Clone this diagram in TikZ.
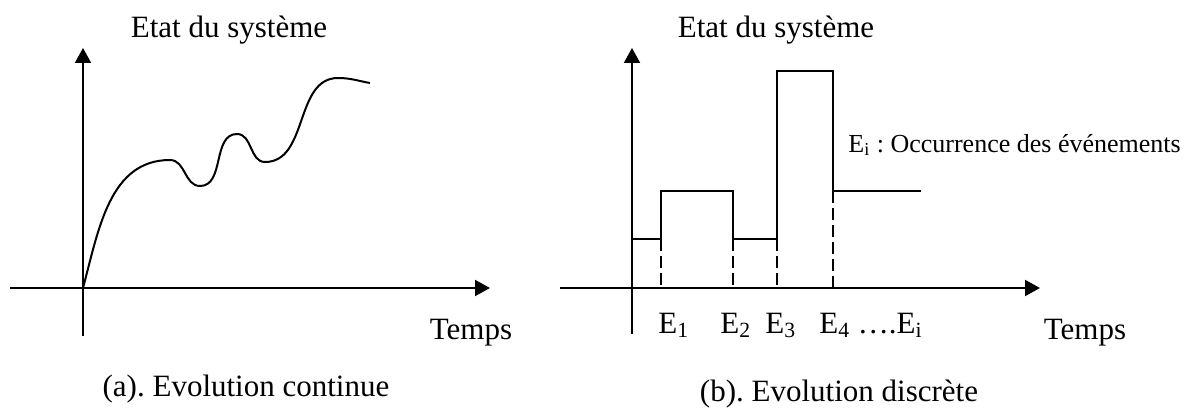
\documentclass[tikz,border=0pt]{standalone}
\usepackage{fontspec}
\setmainfont{Liberation Serif}
\usetikzlibrary{arrows.meta}
\frenchspacing
\tikzset{
  axis/.style={line width=1pt, -{Triangle[length=7.5pt,width=8pt]}},
  trace/.style={line width=1pt},
  guide/.style={line width=1pt, dash pattern=on 6pt off 2.5pt},
  txt/.style={font=\fontsize{15.5}{18}\selectfont, inner sep=0pt},
  note/.style={font=\fontsize{13}{16}\selectfont, inner sep=0pt},
}
\begin{document}
\begin{tikzpicture}[x=0.5pt,y=0.5pt]
\useasboundingbox (0,0) rectangle (1190,408);

\draw[axis] (83,72) -- (83,360);
\draw[axis] (10,120) -- (490,120);
\draw[trace] (83,120) to[out=75,in=180] (170,248) to[out=0,in=180] (200,222) to[out=0,in=180] (237,274) to[out=0,in=180] (265,246) to[out=0,in=180] (338,330) to[out=0,in=170] (370,325);

\draw[axis] (632,74) -- (632,360);
\draw[axis] (560,120) -- (1040,120);
\draw[trace] (632,169) -- (661,169) -- (661,217) -- (733,217) -- (733,169) -- (777,169) -- (777,337) -- (833,337) -- (833,217) -- (921,217);
\foreach \x in {661,733,777}
  \draw[guide] (\x,169) -- (\x,120);
\draw[guide] (833,268) -- (833,120);

\node[txt, anchor=base] (stateA) at (229,370) {Etat du système};
\node[txt, anchor=base] (stateB) at (776,370) {Etat du système};
\node[txt, anchor=base] (timeA) at (471,69) {Temps};
\node[txt, anchor=base] (timeB) at (1085,69) {Temps};
\node[txt, anchor=base west] (ev1) at (658,75) {E\textsubscript{1}};
\node[txt, anchor=base west] (ev2) at (720,75) {E\textsubscript{2}};
\node[txt, anchor=base west] (ev3) at (765,75) {E\textsubscript{3}};
\node[txt, anchor=base west] (ev4) at (819,75) {E\textsubscript{4} ….E\textsubscript{i}};
\node[note, anchor=base west] (events) at (848,256) {E\textsubscript{i} : Occurrence des événements};
\node[txt, anchor=base] (capA) at (246,12) {(a). Evolution continue};
\node[txt, anchor=base] (capB) at (839,7) {(b). Evolution discrète};
\end{tikzpicture}
\end{document}
